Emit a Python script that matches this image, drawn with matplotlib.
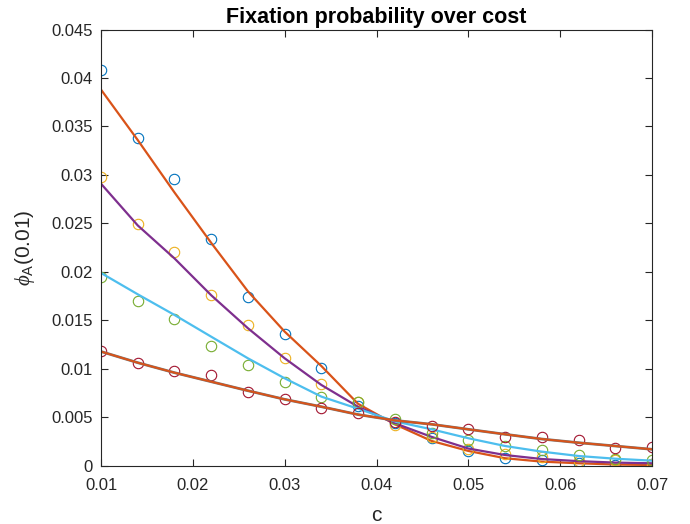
import matplotlib
matplotlib.use("Agg")
import matplotlib.pyplot as plt

plt.rcParams["font.family"] = ["Liberation Sans", "DejaVu Sans"]
plt.rcParams["mathtext.fontset"] = "custom"
plt.rcParams["mathtext.rm"] = "Liberation Sans"
plt.rcParams["mathtext.it"] = "Liberation Serif:italic"

# cost values
c = [0.010, 0.014, 0.018, 0.022, 0.026, 0.030, 0.034, 0.038,
     0.042, 0.046, 0.050, 0.054, 0.058, 0.062, 0.066, 0.070]

# simulated points (circles)
sim_blue = [0.0408, 0.0338, 0.0296, 0.0234, 0.0174, 0.0136, 0.0101, 0.0062,
            0.0044, 0.0029, 0.00155, 0.0008, 0.00062, 0.00028, 0.00013, 0.0002]
sim_yellow = [0.0298, 0.0249, 0.0221, 0.0176, 0.0145, 0.0111, 0.00845, 0.0066,
              0.0042, 0.00296, 0.0018, 0.00124, 0.0009, 0.0005, 0.0006, 0.0002]
sim_green = [0.0195, 0.0170, 0.0152, 0.0124, 0.0104, 0.00866, 0.00708, 0.00663,
             0.0048, 0.00337, 0.00265, 0.0021, 0.00162, 0.00117, 0.00075, 0.00065]
sim_red = [0.01186, 0.01059, 0.00983, 0.00941, 0.00766, 0.00687, 0.00598, 0.00543,
           0.00457, 0.00412, 0.00385, 0.00302, 0.00302, 0.00268, 0.00189, 0.0020]

# theory curves
th_1 = [0.0388, 0.0336, 0.0282, 0.0230, 0.0180, 0.01385, 0.0103, 0.0064,
        0.0043, 0.00258, 0.00155, 0.0008, 0.00045, 0.00028, 0.00015, 0.0001]
th_2 = [0.0291, 0.0248, 0.0214, 0.0176, 0.0142, 0.0111, 0.00835, 0.0061,
        0.0044, 0.0030, 0.0018, 0.00113, 0.00072, 0.0005, 0.00035, 0.00028]
th_3 = [0.0199, 0.0177, 0.01557, 0.01333, 0.0111, 0.00904, 0.00715, 0.0059,
        0.0046, 0.00378, 0.00286, 0.00206, 0.00148, 0.00103, 0.00075, 0.00055]
th_4 = [0.0118, 0.01065, 0.00962, 0.00869, 0.00776, 0.00687, 0.00611, 0.0053,
        0.0047, 0.0043, 0.00378, 0.00327, 0.00278, 0.0024, 0.00206, 0.00172]

xticks = [0.01, 0.02, 0.03, 0.04, 0.05, 0.06, 0.07]
yticks = [0, 0.005, 0.01, 0.015, 0.02, 0.025, 0.03, 0.035, 0.04, 0.045]

blue = (0.0, 0.447, 0.741)
orange = (0.85, 0.325, 0.098)
yellow = (0.929, 0.694, 0.125)
purple = (0.494, 0.184, 0.556)
green = (0.466, 0.674, 0.188)
cyan = (0.301, 0.745, 0.933)
red = (0.635, 0.078, 0.184)

fig = plt.figure(figsize=(6.9, 5.24), dpi=100)
ax = fig.add_axes([0.1464, 0.1107, 0.7986, 0.833])

mk = dict(linestyle="none", marker="o", markerfacecolor="none",
          markersize=7.5, markeredgewidth=0.8)

ax.plot(c, sim_blue, color=blue, **mk)
ax.plot(c, th_1, color=orange, lw=1.6)
ax.plot(c, sim_yellow, color=yellow, **mk)
ax.plot(c, th_2, color=purple, lw=1.6)
ax.plot(c, sim_green, color=green, **mk)
ax.plot(c, th_3, color=cyan, lw=1.6)
ax.plot(c, sim_red, color=red, **mk)
ax.plot(c, th_4, color="#777777", lw=2.0)
ax.plot(c, th_4, color=orange, lw=1.4)

ax.set_xlim(0.01, 0.07)
ax.set_ylim(0, 0.045)
ax.set_xticks(xticks)
ax.set_xticklabels([f"{t:g}" for t in xticks])
ax.set_yticks(yticks)
ax.set_yticklabels([f"{t:g}" for t in yticks])
ax.tick_params(direction="in", top=True, right=True, length=5, width=0.8,
               labelsize=12, colors="#262626")
ax.tick_params(axis="x", pad=9)
ax.tick_params(axis="y", pad=6)
for s in ax.spines.values():
    s.set_linewidth(0.8)
    s.set_color("#262626")

ax.set_title("Fixation probability over cost", fontsize=15.5, fontweight="bold", pad=5)
ax.set_xlabel("c", fontsize=15, color="#262626", labelpad=9)
ax.set_ylabel(r"$\mathit{\phi}_{\rm A}$(0.01)", fontsize=15, color="#262626", labelpad=10)

fig.savefig("out.png", dpi=100)
